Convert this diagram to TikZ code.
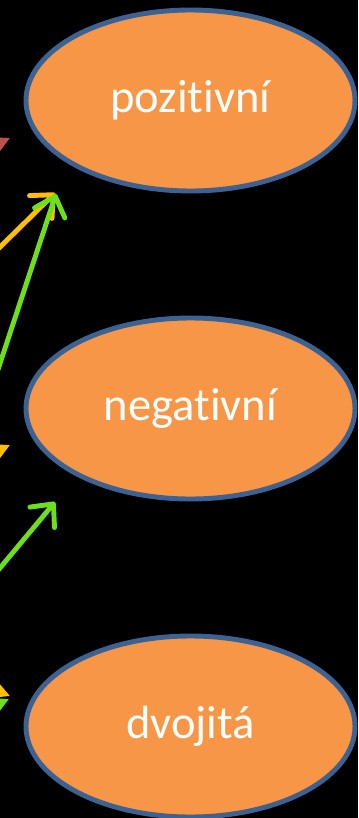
\documentclass[tikz,border=0pt]{standalone}
\usepackage{fontspec}
\setmainfont{Carlito}[Ligatures=NoCommon]
\usetikzlibrary{arrows.meta,shapes.geometric}
\definecolor{catorange}{HTML}{F79646}
\definecolor{catblue}{HTML}{3C6294}
\definecolor{linkred}{HTML}{C0504D}
\definecolor{linkyellow}{HTML}{FFC000}
\definecolor{linkgreen}{HTML}{6EDF1C}
\tikzset{
  cat/.style={ellipse,draw=catblue,line width=2.8pt,fill=catorange,text=white,inner sep=0pt,minimum width=6.58cm,minimum height=3.62cm,font=\fontsize{26.5}{30}\selectfont},
  openedge/.style={-{Straight Barb[length=3.5mm,width=6.4mm,round]},line width=2.8pt,line cap=round},
  tipedge/.style={-{Triangle[length=5mm,width=5mm]},line width=2.8pt}
}
\begin{document}
\begin{tikzpicture}[x=0.2mm,y=-0.2mm]
\useasboundingbox (0,0) rectangle (358,818);
\clip (0,0) rectangle (358,818);
\fill[black] (0,0) rectangle (358,818);
% categories
\node[cat] (pos) at (190.5,100.5) {pozitivní};
\node[cat] (neg) at (190.5,408.5) {negativní};
\node[cat] (dvo) at (190.5,726.5) {dvojitá};
% free ends of the links (sources lie left of the picture)
\coordinate (r1s) at (-80,180);
\coordinate (r1e) at (10,138);
\coordinate (y1s) at (-60,306);
\coordinate (y1e) at (55,193);
\coordinate (g1s) at (-20,424);
\coordinate (g1e) at (56,194);
\coordinate (y2s) at (-80,487);
\coordinate (y2e) at (10,445);
\coordinate (g2s) at (-50,628);
\coordinate (g2e) at (55,502);
\coordinate (g3s) at (-80,740);
\coordinate (g3e) at (9,699);
\coordinate (y3s) at (-80,660);
\coordinate (y3e) at (10,696);
% links
\draw[tipedge,draw=linkred,fill=linkred] (r1s) -- (r1e);
\draw[openedge,draw=linkyellow] (y1s) -- (y1e);
\draw[openedge,draw=linkgreen] (g1s) -- (g1e);
\draw[tipedge,draw=linkyellow,fill=linkyellow] (y2s) -- (y2e);
\draw[openedge,draw=linkgreen] (g2s) -- (g2e);
\draw[tipedge,draw=linkgreen,fill=linkgreen] (g3s) -- (g3e);
\draw[tipedge,draw=linkyellow,fill=linkyellow] (y3s) -- (y3e);
\end{tikzpicture}
\end{document}
